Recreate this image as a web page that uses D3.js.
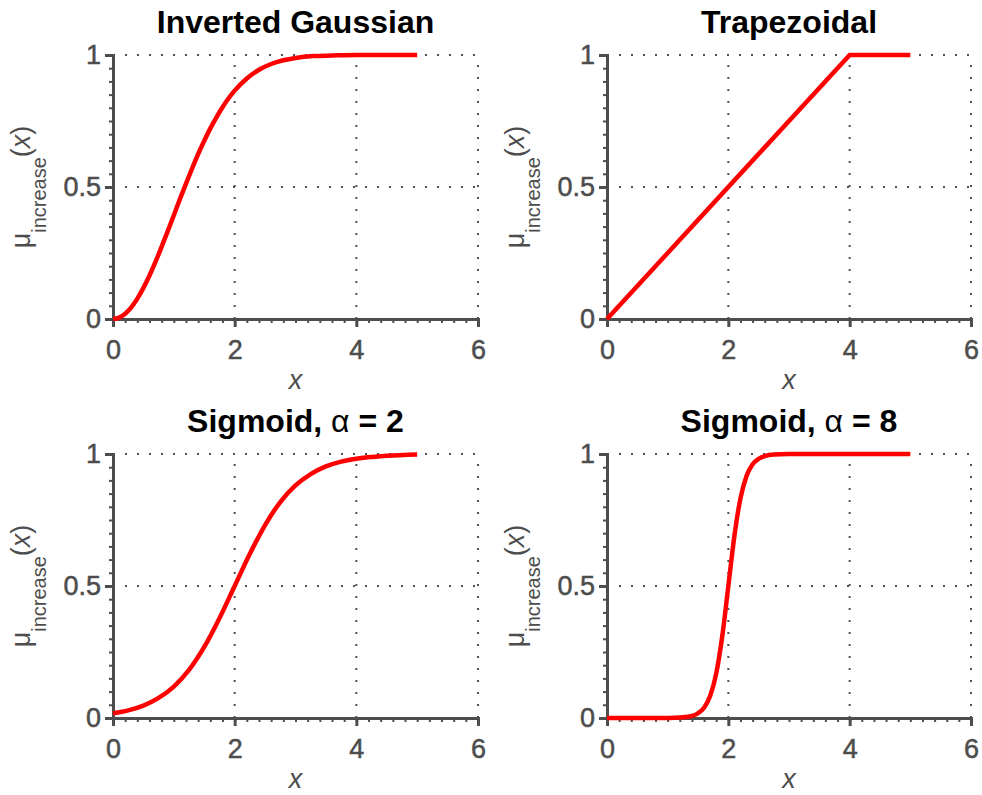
<!DOCTYPE html>
<html><head><meta charset="utf-8">
<script src="https://cdn.jsdelivr.net/npm/d3@7/dist/d3.min.js"></script>
<style>body{margin:0;background:#fff}</style>
</head><body>
<svg id="c" width="982" height="795"></svg>
<script>
// ---- data ----
const xTicks = [0, 2, 4, 6];
const xTickLabels = ["0", "2", "4", "6"];
const yTicks = [0, 0.5, 1];
const yTickLabels = ["0", "0.5", "1"];
const panelTitles = ["Inverted Gaussian", "Trapezoidal", "Sigmoid, α = 2", "Sigmoid, α = 8"];

const gaussX = [0,0.1,0.2,0.3,0.4,0.5,0.6,0.7,0.8,0.9,1.0,1.1,1.2,1.3,1.4,1.5,1.6,1.7,1.8,1.9,2.0,2.2,2.4,2.6,2.8,3.0,3.3,3.6,4.0,4.5,5.0];
const gaussY = [0,0.005,0.02,0.044,0.077,0.118,0.165,0.217,0.274,0.333,0.393,0.454,0.513,0.57,0.625,0.675,0.722,0.764,0.802,0.836,0.865,0.911,0.944,0.966,0.98,0.989,0.996,0.998,1.0,1.0,1.0];

const trapX = [0, 4, 5];
const trapY = [0, 1, 1];

const sig2X = [0,0.25,0.5,0.75,1.0,1.25,1.5,1.75,2.0,2.25,2.5,2.75,3.0,3.25,3.5,3.75,4.0,4.5,5.0];
const sig2Y = [0.018,0.029,0.047,0.076,0.119,0.182,0.269,0.378,0.5,0.622,0.731,0.818,0.881,0.924,0.953,0.971,0.982,0.993,0.998];

const sig8X = [0,0.5,1.0,1.25,1.4,1.5,1.6,1.7,1.8,1.9,2.0,2.1,2.2,2.3,2.4,2.5,2.6,2.75,3.0,4.0,5.0];
const sig8Y = [0,0,0.0003,0.0025,0.008,0.018,0.039,0.083,0.168,0.31,0.5,0.69,0.832,0.917,0.961,0.982,0.992,0.998,1.0,1.0,1.0];

// ---- layout ----
const layout = [
  {x0:113, x1:478, y0:319, y1:55},
  {x0:607, x1:971, y0:319, y1:55},
  {x0:113, x1:478, y0:718, y1:454},
  {x0:607, x1:971, y0:718, y1:454}
];
const series = [[gaussX,gaussY],[trapX,trapY],[sig2X,sig2Y],[sig8X,sig8Y]];
const AX = "#4d4d4d";
const FONT = "'Liberation Sans', Arial, Helvetica, sans-serif";

const svg = d3.select("#c");

series.forEach((s, i) => {
  const L = layout[i];
  const x = d3.scaleLinear().domain([0, 6]).range([L.x0, L.x1]);
  const y = d3.scaleLinear().domain([0, 1]).range([L.y0, L.y1]);
  const g = svg.append("g");

  // grid (dotted)
  const grid = g.append("g").attr("stroke", "#333").attr("stroke-width", 2)
    .attr("stroke-dasharray", "2,10").attr("opacity", 0.85);
  xTicks.filter(t => t > 0).forEach(t => {
    grid.append("line").attr("x1", x(t)).attr("x2", x(t)).attr("y1", y(0)).attr("y2", y(1));
  });
  yTicks.filter(t => t > 0).forEach(t => {
    grid.append("line").attr("x1", x(0)).attr("x2", x(6)).attr("y1", y(t)).attr("y2", y(t));
  });

  // minor ticks
  const xMinor = d3.range(0, 61, 2).map(v => v / 10);
  const yMinor = d3.range(0, 21).map(v => v / 20);
  g.append("g").attr("transform", `translate(0,${L.y0})`)
    .call(d3.axisBottom(x).tickValues(xMinor).tickSize(4).tickFormat(""))
    .call(a => { a.select(".domain").remove(); a.selectAll("line").attr("stroke", AX).attr("stroke-width", 2); });
  g.append("g").attr("transform", `translate(${L.x0},0)`)
    .call(d3.axisLeft(y).tickValues(yMinor).tickSize(4).tickFormat(""))
    .call(a => { a.select(".domain").remove(); a.selectAll("line").attr("stroke", AX).attr("stroke-width", 2); });

  // major axes
  const xa = g.append("g").attr("transform", `translate(0,${L.y0})`)
    .call(d3.axisBottom(x).tickValues(xTicks).tickFormat((d, k) => xTickLabels[k])
      .tickSizeInner(8).tickSizeOuter(0).tickPadding(13));
  const ya = g.append("g").attr("transform", `translate(${L.x0},0)`)
    .call(d3.axisLeft(y).tickValues(yTicks).tickFormat((d, k) => yTickLabels[k])
      .tickSizeInner(8).tickSizeOuter(0).tickPadding(4));
  [xa, ya].forEach(a => {
    a.select(".domain").attr("stroke", AX).attr("stroke-width", 3).attr("stroke-linecap", "square");
    a.selectAll(".tick line").attr("stroke", AX).attr("stroke-width", 3);
    a.selectAll("text").attr("fill", AX).attr("font-size", 27).attr("font-family", FONT)
      .attr("stroke", AX).attr("stroke-width", 0.5);
  });

  // curve
  const pts = s[0].map((v, k) => [v, s[1][k]]);
  g.append("path").datum(pts)
    .attr("fill", "none").attr("stroke", "#ff0000").attr("stroke-width", 4.5)
    .attr("stroke-linejoin", "round")
    .attr("d", d3.line().x(d => x(d[0])).y(d => y(d[1]))
      .curve(i === 1 ? d3.curveLinear : d3.curveMonotoneX));

  // title
  const cx = (L.x0 + L.x1) / 2;
  const t = g.append("text").attr("x", cx).attr("y", L.y1 - 22)
    .attr("text-anchor", "middle").attr("font-family", FONT)
    .attr("font-size", 32).attr("font-weight", "bold").attr("fill", "#000");
  const title = panelTitles[i];
  if (title.includes("α")) {
    const parts = title.split("α");
    t.append("tspan").text(parts[0]);
    t.append("tspan").attr("font-weight", "normal").text("α");
    t.append("tspan").text(parts[1]);
  } else {
    t.text(title);
  }

  // x label
  g.append("text").attr("x", cx).attr("y", L.y0 + 70)
    .attr("text-anchor", "middle").attr("font-family", FONT)
    .attr("font-size", 27).attr("font-style", "italic").attr("fill", AX).text("x");

  // y label
  const cy = (L.y0 + L.y1) / 2;
  const yl = g.append("text")
    .attr("transform", `translate(${L.x0 - 83},${cy}) rotate(-90)`)
    .attr("text-anchor", "middle").attr("font-family", FONT)
    .attr("font-size", 27).attr("fill", AX);
  yl.append("tspan").text("μ");
  yl.append("tspan").attr("font-size", 20).attr("dy", 16).text("increase");
  yl.append("tspan").attr("dy", -16).text("(");
  yl.append("tspan").attr("font-style", "italic").text("x");
  yl.append("tspan").text(")");
});
</script>
</body></html>
